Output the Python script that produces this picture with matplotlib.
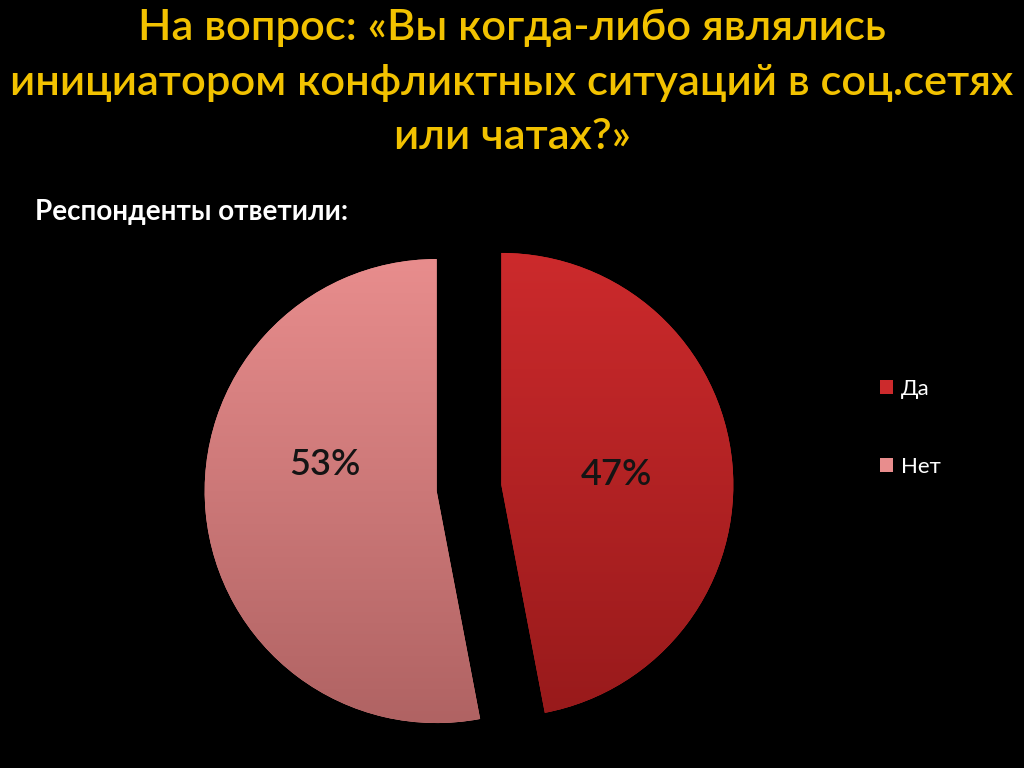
import numpy as np
import matplotlib
matplotlib.use("Agg")
import matplotlib.pyplot as plt
from matplotlib.colors import LinearSegmentedColormap

plt.rcParams['font.family'] = ['Lato', 'DejaVu Sans']

# data
labels = ['Да', 'Нет']
values = [47, 53]
top_colors = ['#cc2a2c', '#e88d8d']
bottom_colors = ['#981a1b', '#b06363']

title_lines = ['На вопрос: «Вы когда-либо являлись',
               'инициатором конфликтных ситуаций в соц.сетях',
               'или чатах?»']
subtitle = 'Респонденты ответили:'

fig = plt.figure(figsize=(10.24, 7.68), dpi=100, facecolor='black')

# title + subtitle
for i, line in enumerate(title_lines):
    fig.text(0.5, 1 - (28 + 54.5 * i) / 768, line, ha='center', va='center',
             color='#f2c200', fontsize=31.3, fontweight='semibold')
fig.text(35 / 1024, 1 - 212 / 768, subtitle, ha='left', va='center',
         color='white', fontsize=20, fontweight='bold')

# pie axes: radius 1 -> 232 px, center at (469, 488) px
R = 232.0
cx, cy = 469.0, 488.0
half = 300.0
ax = fig.add_axes([(cx - half) / 1024, (768 - cy - half) / 768,
                   2 * half / 1024, 2 * half / 768])
ax.set_facecolor('black')
s = half / R

wedges, texts, autotexts = ax.pie(
    values, labels=None, startangle=90, counterclock=False,
    explode=[0.14, 0.14], autopct='%1.0f%%', pctdistance=0.5,
    colors=top_colors,
    textprops=dict(color='#141414', fontsize=26, fontweight='semibold'))

# vertical gradient fill for each wedge
grad = np.linspace(0, 1, 256).reshape(-1, 1)
for w, c_top, c_bot in zip(wedges, top_colors, bottom_colors):
    cmap = LinearSegmentedColormap.from_list('g', [c_top, c_bot])
    cy_w = w.center[1]
    im = ax.imshow(grad, cmap=cmap, aspect='auto', origin='upper',
                   extent=[-s, s, cy_w - 1, cy_w + 1], zorder=w.get_zorder())
    im.set_clip_path(w)

for t in autotexts:
    t.set_zorder(5)
# the "Нет" label sits a bit higher in the original
autotexts[1].set_position((-0.62, 0.10))

ax.set_xlim(-s, s)
ax.set_ylim(-s, s)
ax.set_aspect('equal')
ax.axis('off')

leg = fig.legend(wedges, labels, loc='upper left',
                 bbox_to_anchor=(860 / 1024, 1 - 359 / 768),
                 frameon=False, fontsize=16, labelcolor='white',
                 handlelength=0.6, handleheight=0.6, handletextpad=0.35,
                 labelspacing=2.6)

fig.savefig('out.png', dpi=100, facecolor='black')
